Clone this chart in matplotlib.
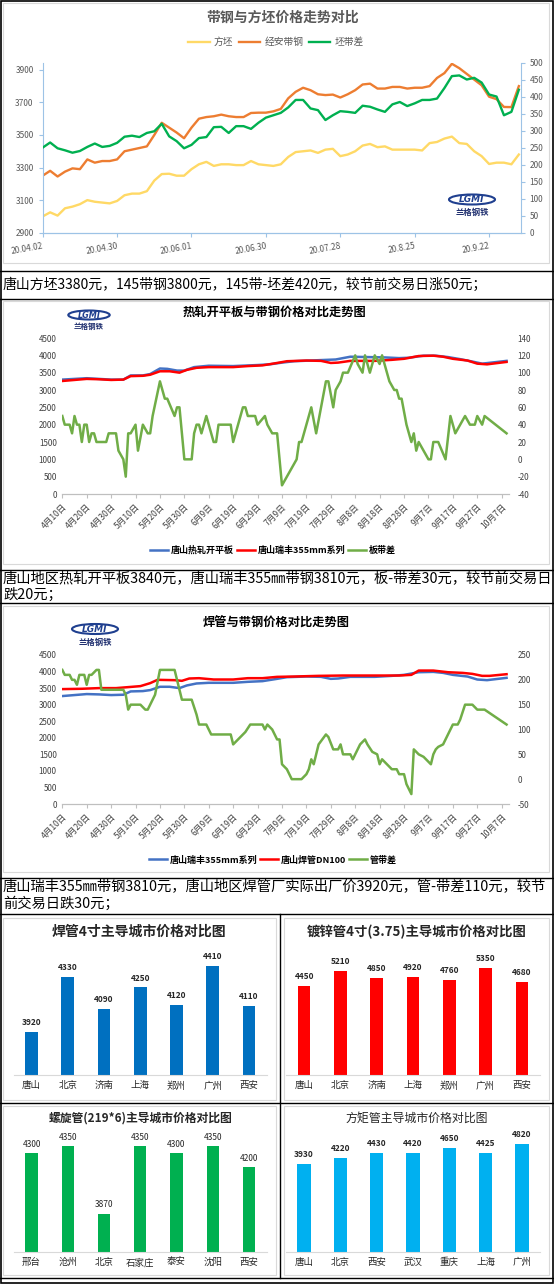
import matplotlib
matplotlib.use('Agg')
import matplotlib.pyplot as plt
from matplotlib.patches import Rectangle, Ellipse
import numpy as np

plt.rcParams['font.family'] = ['Noto Sans CJK SC', 'DejaVu Sans']
plt.rcParams['axes.unicode_minus'] = False

# ---------------- data ----------------
# chart 1: billet / strip price, every 2nd trading day from 20.04.02
c1_idx = np.arange(0, 129, 2)
billet = [3000, 3025, 3005, 3050, 3060, 3075, 3100, 3090, 3085, 3080,
          3095, 3130, 3140, 3140, 3155, 3220, 3260, 3262, 3250, 3250,
          3290, 3320, 3335, 3310, 3320, 3320, 3315, 3315, 3340, 3320,
          3315, 3310, 3320, 3365, 3395, 3400, 3405, 3390, 3410, 3415,
          3370, 3380, 3400, 3435, 3445, 3425, 3430, 3410, 3410, 3410,
          3410, 3405, 3450, 3457, 3478, 3490, 3450, 3445, 3400, 3370,
          3322, 3330, 3330, 3320, 3380]
strip = [3250, 3280, 3245, 3275, 3295, 3290, 3350, 3330, 3340, 3340,
         3350, 3400, 3410, 3420, 3430, 3500, 3575, 3545, 3515, 3480,
         3545, 3600, 3610, 3615, 3625, 3615, 3610, 3610, 3635, 3637,
         3637, 3645, 3660, 3725, 3765, 3790, 3775, 3750, 3745, 3748,
         3730, 3750, 3775, 3810, 3815, 3785, 3785, 3795, 3795, 3785,
         3790, 3790, 3800, 3850, 3880, 3937, 3910, 3875, 3840, 3805,
         3735, 3720, 3672, 3671, 3800]
spread = [250, 265, 248, 242, 235, 240, 252, 262, 252, 255,
          264, 282, 285, 281, 293, 298, 320, 283, 269, 248,
          258, 278, 281, 310, 311, 293, 313, 313, 305, 323,
          338, 345, 352, 368, 390, 390, 365, 360, 331, 345,
          357, 355, 352, 373, 370, 362, 355, 377, 384, 372,
          380, 390, 390, 394, 425, 460, 462, 450, 455, 441,
          406, 400, 345, 355, 420]
c1_tick_idx = [0, 20, 40, 60, 80, 100, 120]
c1_tick_lab = ['20.04.02', '20.04.30', '20.06.01', '20.06.30', '20.07.28', '20.8.25', '20.9.22']

# charts 2/3: days after 4月10日
date_ticks = list(range(0, 181, 10))
date_labels = ['4月10日', '4月20日', '4月30日', '5月10日', '5月20日', '5月30日', '6月9日',
               '6月19日', '6月29日', '7月9日', '7月19日', '7月29日', '8月8日', '8月18日',
               '8月28日', '9月7日', '9月17日', '9月27日', '10月7日']

hr_days = [0, 5, 10, 15, 20, 25, 28, 33, 36, 40, 43, 47, 50, 54, 60, 70, 80, 85, 90, 95,
           105, 112, 118, 125, 132, 138, 142, 148, 153, 158, 163, 168, 172, 182]
hr_vals = [3300, 3320, 3340, 3320, 3300, 3300, 3420, 3420, 3460, 3620, 3610, 3560, 3560, 3660,
           3700, 3690, 3720, 3740, 3790, 3830, 3860, 3880, 3960, 3950, 3940, 3920, 3930, 3990,
           3990, 3950, 3890, 3820, 3760, 3840]

rf_days = [0, 5, 10, 15, 20, 25, 28, 33, 36, 40, 44, 48, 51, 55, 60, 70, 76, 82, 88, 92,
           100, 106, 110, 113, 118, 128, 135, 140, 146, 152, 156, 160, 166, 170, 174, 182]
rf_vals = [3260, 3290, 3320, 3310, 3290, 3300, 3400, 3410, 3440, 3540, 3540, 3500, 3580, 3640,
           3660, 3660, 3690, 3710, 3780, 3830, 3850, 3840, 3780, 3790, 3840, 3840, 3870, 3900,
           3980, 3990, 3960, 3900, 3850, 3760, 3740, 3810]

bd_days = [0, 1, 3, 4, 5, 6, 7, 8, 9, 10, 11, 12, 13, 14, 18, 19, 22, 23, 25, 26,
           27, 28, 30, 31, 33, 35, 36, 37, 40, 42, 43, 46, 47, 48, 49, 50, 53, 54, 55, 56,
           57, 59, 60, 62, 63, 64, 69, 70, 72, 74, 75, 76, 79, 80, 83, 84, 86, 88, 90, 94,
           96, 97, 98, 99, 102, 104, 106, 108, 109, 111, 112, 114, 115, 117, 120, 121, 123, 124, 126, 128,
           130, 131, 133, 134, 136, 137, 138, 139, 141, 143, 144, 145, 146, 148, 150, 151, 152, 154, 157, 159,
           161, 163, 165, 167, 169, 170, 172, 173, 182]
bd_vals = [50, 40, 40, 30, 50, 40, 40, 20, 40, 40, 20, 30, 30, 20, 20, 30, 30, 10, 0, -20,
           30, 30, 40, 10, 40, 30, 30, 50, 90, 70, 70, 50, 60, 60, 30, 0, 0, 30, 40, 40,
           30, 50, 40, 20, 20, 40, 40, 20, 40, 60, 60, 50, 50, 40, 50, 40, 30, 30, -30, -10,
           0, 20, 20, 30, 60, 30, 60, 90, 90, 60, 80, 90, 100, 100, 120, 110, 100, 120, 100, 120,
           110, 120, 100, 90, 80, 80, 70, 70, 40, 20, 30, 10, 20, 10, 0, 0, 20, 20, 0, 50,
           30, 40, 50, 40, 40, 50, 40, 50, 30]

pipe_days = [0, 8, 15, 22, 27, 32, 36, 39, 46, 49, 52, 56, 62, 70, 76, 82, 88, 95, 105, 115,
             125, 138, 143, 146, 152, 158, 164, 168, 172, 175, 182]
pipe_vals = [3470, 3480, 3500, 3500, 3530, 3560, 3650, 3750, 3740, 3720, 3790, 3800, 3760, 3760,
             3800, 3800, 3840, 3850, 3870, 3880, 3880, 3880, 3900, 4030, 4030, 3980, 3960, 3930,
             3870, 3870, 3920]

pd_days = [0, 1, 3, 4, 5, 6, 7, 9, 10, 11, 12, 14, 15, 16, 18, 25, 26, 27, 28, 32,
           34, 35, 37, 38, 40, 46, 47, 49, 53, 55, 56, 59, 61, 69, 70, 72, 74, 75, 77, 80,
           82, 83, 84, 86, 88, 89, 90, 92, 94, 98, 100, 101, 102, 103, 105, 108, 109, 111, 113, 114,
           115, 118, 119, 121, 122, 124, 125, 127, 129, 130, 131, 133, 135, 137, 138, 140, 141, 143, 144, 146,
           148, 149, 151, 152, 153, 154, 156, 158, 160, 162, 163, 165, 167, 168, 170, 173, 182]
pd_vals = [220, 210, 210, 200, 200, 190, 210, 210, 190, 210, 210, 220, 220, 180, 180, 180, 170, 140, 150, 150,
           140, 140, 160, 170, 220, 220, 200, 160, 160, 130, 110, 110, 90, 90, 70, 80, 90, 95, 110, 110,
           110, 100, 110, 100, 80, 80, 30, 20, 0, 0, 10, 20, 40, 30, 70, 90, 85, 60, 60, 70,
           50, 50, 40, 60, 70, 80, 70, 55, 50, 30, 40, 30, 20, 20, 10, 10, -10, -30, 60, 50,
           45, 40, 30, 50, 60, 65, 70, 90, 110, 110, 120, 150, 150, 150, 140, 140, 110]

# bar charts
weld_cities = ['唐山', '北京', '济南', '上海', '郑州', '广州', '西安']
weld_prices = [3920, 4330, 4090, 4250, 4120, 4410, 4110]
galv_cities = ['唐山', '北京', '济南', '上海', '郑州', '广州', '西安']
galv_prices = [4450, 5210, 4850, 4920, 4760, 5350, 4680]
spiral_cities = ['邢台', '沧州', '北京', '石家庄', '泰安', '沈阳', '西安']
spiral_prices = [4300, 4350, 3870, 4350, 4300, 4350, 4200]
rect_cities = ['唐山', '北京', '西安', '武汉', '重庆', '上海', '广州']
rect_prices = [3930, 4220, 4430, 4420, 4650, 4425, 4820]

text1 = '唐山方坯3380元，145带钢3800元，145带-坯差420元，较节前交易日涨50元；'
text2 = ['唐山地区热轧开平板3840元，唐山瑞丰355㎜带钢3810元，板-带差30元，较节前交易日', '跌20元；']
text3 = ['唐山瑞丰355㎜带钢3810元，唐山地区焊管厂实际出厂价3920元，管-带差110元，较节', '前交易日跌30元；']

# ---------------- layout ----------------
W, H = 554, 1284
fig = plt.figure(figsize=(W / 100, H / 100), dpi=100)


def box(x0, y0, x1, y1):
    return fig.add_axes([x0 / W, 1 - y1 / H, (x1 - x0) / W, (y1 - y0) / H])


def figpt(x, y):
    return (x / W, 1 - y / H)


bg = fig.add_axes([0, 0, 1, 1])
bg.set_xlim(0, W)
bg.set_ylim(H, 0)
bg.axis('off')

# panel frames
for (x0, y0, x1, y1) in [(3, 3, 549, 263), (3, 301, 549, 564), (3, 606, 549, 872),
                         (3, 918, 276, 1100), (284, 918, 549, 1100),
                         (3, 1106, 276, 1275), (284, 1106, 549, 1275)]:
    bg.add_patch(Rectangle((x0, y0), x1 - x0, y1 - y0, fill=False, ec='#D9D9D9', lw=0.8))

for y in [271, 299, 570, 603, 878, 914, 1103, 1278]:
    bg.plot([0, W], [y, y], color='black', lw=1)
bg.plot([280, 280], [914, 1278], color='black', lw=1)
bg.add_patch(Rectangle((0.5, 0.5), 552, 1282, fill=False, ec='black', lw=1.2))

# paragraphs
bg.text(3, 285, text1, fontsize=10, va='center', ha='left')
bg.text(3, 579, text2[0], fontsize=10.3, va='center', ha='left')
bg.text(3, 595, text2[1], fontsize=10.3, va='center', ha='left')
bg.text(3, 887, text3[0], fontsize=10.3, va='center', ha='left')
bg.text(3, 904, text3[1], fontsize=10.3, va='center', ha='left')


def logo(cx, cy, s=1.0):
    bg.add_patch(Ellipse((cx, cy), 46 * s, 10 * s, fc='white', ec='#1F3F8F', lw=1.5))
    bg.text(cx, cy + 0.5, 'LGMI', color='#1F3F8F', fontsize=6.5 * s, weight='bold',
            style='italic', ha='center', va='center', family='DejaVu Sans')
    bg.text(cx, cy + 13 * s, '兰格钢铁', color='#1F2F6F', fontsize=6 * s, weight='bold',
            ha='center', va='center')


# ---------------- chart 1 ----------------
bg.text(283, 18, '带钢与方坯价格走势对比', fontsize=10, weight='bold', color='#595959',
        ha='center', va='center')
ax1 = box(42.7, 62.5, 520.7, 232.7)
ax1.set_facecolor('none')
l1, = ax1.plot(c1_idx, billet, color='#FFD966', lw=1.7, label='方坯')
l2, = ax1.plot(c1_idx, strip, color='#ED7D31', lw=1.7, label='经安带钢')
ax1.set_ylim(2900, 3945)
ax1.set_yticks(range(2900, 3901, 200))
ax1.set_xlim(0, 128.5)
ax1.set_xticks(c1_tick_idx)
ax1.set_xticklabels(c1_tick_lab, rotation=10, ha='right', rotation_mode='anchor')
ax1b = ax1.twinx()
l3, = ax1b.plot(c1_idx, spread, color='#00B050', lw=1.7, label='坯带差')
ax1b.set_ylim(0, 500)
ax1b.set_yticks(range(0, 501, 50))
for a in (ax1, ax1b):
    a.spines['top'].set_visible(False)
    for sp in ('left', 'right', 'bottom'):
        a.spines[sp].set_color('#9DC3E6')
    a.tick_params(colors='#9DC3E6', labelcolor='#595959', labelsize=6, length=3)
ax1.spines['right'].set_visible(False)
ax1b.spines['left'].set_visible(False)
ax1.legend(handles=[l1, l2, l3], loc='center', bbox_to_anchor=figpt(276, 42),
           bbox_transform=fig.transFigure, ncol=3, frameon=False, fontsize=7,
           handlelength=2.2, handletextpad=0.4, columnspacing=0.6, labelcolor='#595959')
logo(472, 199.5)


def price_chart(top, bot, right_lim, right_step, series, diff, legend_y):
    ax = box(62.3, top, 509, bot)
    ax.set_facecolor('none')
    handles = []
    for days, vals, col, lab in series:
        h, = ax.plot(days, vals, color=col, lw=1.8, label=lab)
        handles.append(h)
    ax.set_ylim(0, 4500)
    ax.set_yticks(range(0, 4501, 500))
    ax.set_xlim(0, 183)
    ax.set_xticks(date_ticks)
    ax.set_xticklabels(date_labels, rotation=45, ha='right', rotation_mode='anchor')
    axb = ax.twinx()
    h, = axb.plot(diff[0], diff[1], color='#70AD47', lw=1.8, label=diff[2])
    handles.append(h)
    axb.set_ylim(*right_lim)
    axb.set_yticks(range(right_lim[0], right_lim[1] + 1, right_step))
    for a in (ax, axb):
        for sp in ('top', 'left', 'right'):
            a.spines[sp].set_visible(False)
        a.spines['bottom'].set_color('#BFBFBF')
        a.tick_params(axis='y', length=0, labelsize=5.8, labelcolor='#404040', pad=4)
    ax.tick_params(axis='x', length=3, color='#BFBFBF', labelsize=6.2, labelcolor='#404040', pad=3)
    axb.tick_params(axis='y', pad=6)
    ax.legend(handles=handles, loc='center', bbox_to_anchor=figpt(273, legend_y),
              bbox_transform=fig.transFigure, ncol=3, frameon=False,
              prop={'size': 6.5, 'weight': 'bold'}, handlelength=2.0,
              handletextpad=0.3, columnspacing=0.3)
    return ax


# ---------------- chart 2 ----------------
bg.text(274, 312, '热轧开平板与带钢价格对比走势图', fontsize=8.8, weight='bold', ha='center', va='center')
price_chart(338, 494, (-40, 140), 20,
            [(hr_days, hr_vals, '#4472C4', '唐山热轧开平板'),
             (rf_days, rf_vals, '#FF0000', '唐山瑞丰355mm系列')],
            (bd_days, bd_vals, '板带差'), 550)
logo(89, 315, 0.9)

# ---------------- chart 3 ----------------
bg.text(276, 623, '焊管与带钢价格对比走势图', fontsize=8.8, weight='bold', ha='center', va='center')
price_chart(655, 804, (-50, 250), 50,
            [(rf_days, rf_vals, '#4472C4', '唐山瑞丰355mm系列'),
             (pipe_days, pipe_vals, '#FF0000', '唐山焊管DN100')],
            (pd_days, pd_vals, '管带差'), 860)
logo(95, 629, 1.0)


# ---------------- bar charts ----------------
def bar_chart(rect, cities, prices, color, ylim, width, bold):
    ax = box(*rect)
    ax.set_facecolor('none')
    x = np.arange(len(cities))
    ax.bar(x, prices, width=width, color=color, edgecolor='none')
    for i, v in enumerate(prices):
        ax.annotate(str(v), (i, v), xytext=(0, 3.5), textcoords='offset points',
                    ha='center', va='bottom', fontsize=6,
                    weight='bold' if bold else 'normal', color='#262626')
    ax.set_ylim(*ylim)
    ax.set_xlim(-0.5, len(cities) - 0.5)
    ax.set_xticks(x)
    ax.set_xticklabels(cities)
    ax.set_yticks([])
    for sp in ('top', 'left', 'right'):
        ax.spines[sp].set_visible(False)
    ax.spines['bottom'].set_color('#D9D9D9')
    ax.tick_params(axis='x', length=0, labelsize=6.8, pad=4.5, labelcolor='#262626')
    return ax


bg.text(139, 932, '焊管4寸主导城市价格对比图', fontsize=10, weight='bold', ha='center', va='center', color='#262626')
bg.text(417, 932, '镀锌管4寸(3.75)主导城市价格对比图', fontsize=9.6, weight='bold', ha='center', va='center', color='#262626')
bg.text(141, 1118, '螺旋管(219*6)主导城市价格对比图', fontsize=8.5, weight='bold', ha='center', va='center', color='#262626')
bg.text(417, 1118, '方矩管主导城市价格对比图', fontsize=8.6, ha='center', va='center', color='#262626')

bar_chart((13.5, 945, 267, 1075), weld_cities, weld_prices, '#0070C0', (3600, 4565), 0.35, True)
bar_chart((286, 945, 540, 1075), galv_cities, galv_prices, '#FF0000', (0, 6520), 0.35, True)
bar_chart((13.5, 1130, 267, 1251.7), spiral_cities, spiral_prices, '#00B050', (3600, 4467), 0.34, False)
bar_chart((286, 1130, 540, 1251.7), rect_cities, rect_prices, '#00B0F0', (0, 5462), 0.37, True)

fig.savefig('out.png', dpi=100)
